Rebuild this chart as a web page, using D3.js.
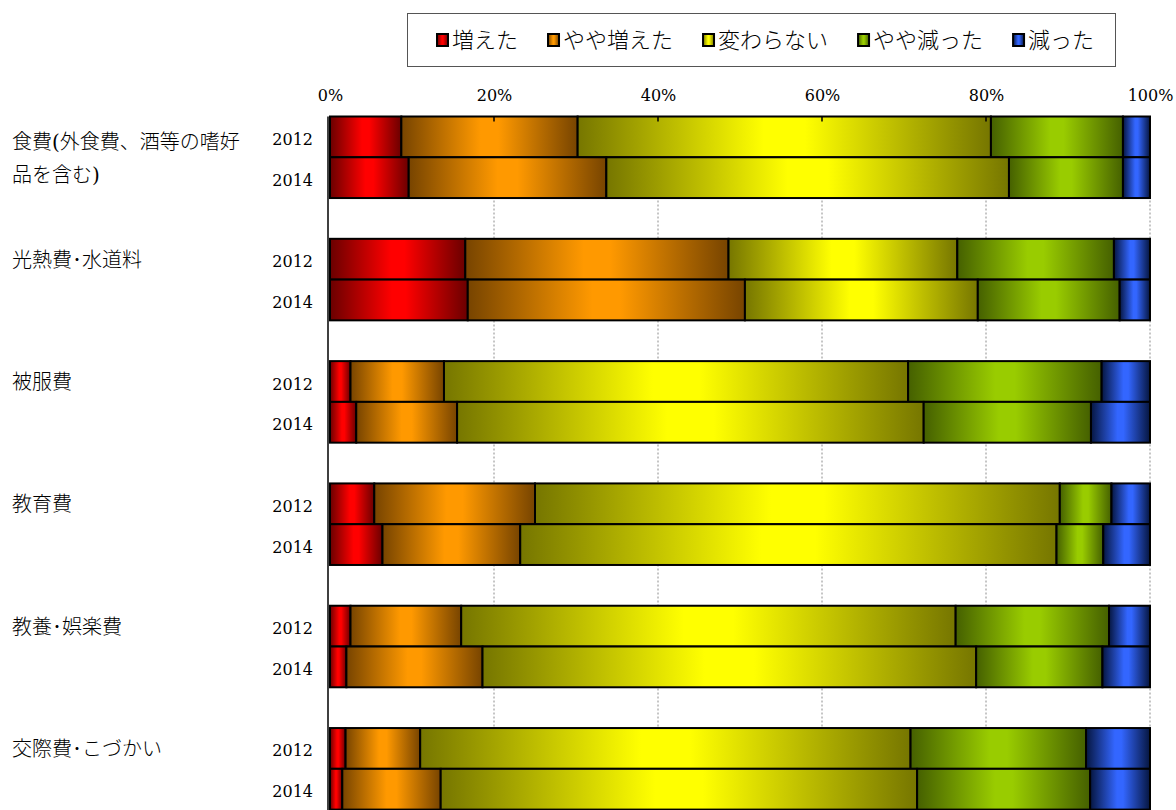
<!DOCTYPE html>
<html>
<head>
<meta charset="utf-8">
<script src="https://cdn.jsdelivr.net/npm/d3@7"></script>
<style>
  html, body { margin: 0; padding: 0; background: #fff; }
  svg { display: block; }
</style>
</head>
<body>
<svg id="chart" width="1176" height="810"></svg>
<script>
// ---- Data ----
const categories = [
  ["食費(外食費、酒等の嗜好", "品を含む)"],
  ["光熱費･水道料"],
  ["被服費"],
  ["教育費"],
  ["教養･娯楽費"],
  ["交際費･こづかい"]
];
const years = ["2012", "2014"];
const seriesNames = ["増えた", "やや増えた", "変わらない", "やや減った", "減った"];
// values per category (%), in series order
const values2012 = [
  [8.7, 21.5, 50.4, 16.1, 3.3],
  [16.5, 32.1, 27.9, 19.1, 4.4],
  [2.5, 11.4, 56.6, 23.6, 5.9],
  [5.4, 19.6, 64.0, 6.3, 4.7],
  [2.5, 13.5, 60.3, 18.7, 5.0],
  [1.9, 9.1, 59.8, 21.4, 7.8]
];
const values2014 = [
  [9.6, 24.1, 49.1, 13.9, 3.3],
  [16.8, 33.8, 28.4, 17.3, 3.7],
  [3.2, 12.3, 56.9, 20.4, 7.2],
  [6.4, 16.8, 65.4, 5.7, 5.7],
  [2.0, 16.6, 60.2, 15.4, 5.8],
  [1.5, 12.0, 58.1, 21.1, 7.3]
];
const tickValues = [0, 20, 40, 60, 80, 100];

// ---- Styles ----
const colors = [
  { dark: "#6a0000", bright: "#ff0000" },
  { dark: "#774400", bright: "#ff9900" },
  { dark: "#767600", bright: "#ffff00" },
  { dark: "#456000", bright: "#99cc00" },
  { dark: "#061640", bright: "#3366ff" }
];
const numFont = "'DejaVu Serif', 'Liberation Serif', serif";
const jpFont = "'DejaVu Serif', 'Noto Sans CJK JP', sans-serif";

const svg = d3.select("#chart");
const defs = svg.append("defs");
colors.forEach((c, i) => {
  const g = defs.append("linearGradient").attr("id", "grad" + i)
    .attr("x1", "0").attr("x2", "1").attr("y1", "0").attr("y2", "0");
  g.append("stop").attr("offset", "0").attr("stop-color", c.dark);
  g.append("stop").attr("offset", "0.45").attr("stop-color", c.bright);
  g.append("stop").attr("offset", "0.55").attr("stop-color", c.bright);
  g.append("stop").attr("offset", "1").attr("stop-color", c.dark);
});

// ---- Scales ----
const plotLeft = 330, plotRight = 1150, plotTop = 116.5;
const slotH = 40.77;
const slots = [];
categories.forEach((c, i) => { slots.push(i + "-0", i + "-1", i + "-gap"); });
const x = d3.scaleLinear().domain([0, 100]).range([plotLeft, plotRight]);
const y = d3.scaleBand().domain(slots).range([plotTop, plotTop + slots.length * slotH]).padding(0);
const plotBottom = plotTop + slots.length * slotH;

// ---- Gridlines ----
svg.append("g").selectAll("line").data(tickValues.filter(v => v > 0)).join("line")
  .attr("x1", d => x(d)).attr("x2", d => x(d))
  .attr("y1", plotTop).attr("y2", plotBottom)
  .attr("stroke", "#8c8c8c").attr("stroke-width", 1)
  .attr("stroke-dasharray", "2,2");

// ---- Top axis ----
const axis = d3.axisTop(x).tickValues(tickValues).tickFormat(d => d + "%").tickSize(0).tickPadding(0);
const axG = svg.append("g").attr("transform", `translate(0,${plotTop})`).call(axis);
axG.select(".domain").remove();
axG.selectAll("text").attr("y", 0).attr("dy", 0)
  .attr("transform", `translate(0,${101 - plotTop})`)
  .style("font-family", numFont).style("font-size", "16px").attr("fill", "#000");

// ---- Bars ----
const rows = [];
categories.forEach((c, i) => {
  [values2012[i], values2014[i]].forEach((vals, j) => {
    let cum = 0;
    vals.forEach((v, k) => {
      rows.push({ slot: i + "-" + j, k, x0: cum, x1: cum + v });
      cum += v;
    });
  });
});
svg.append("g").selectAll("rect").data(rows).join("rect")
  .attr("x", d => x(d.x0))
  .attr("width", d => x(Math.min(d.x1, 100)) - x(d.x0))
  .attr("y", d => y(d.slot))
  .attr("height", y.bandwidth())
  .attr("fill", d => `url(#grad${d.k})`)
  .attr("stroke", "#000").attr("stroke-width", 2);

// inward ticks at top
svg.append("g").selectAll("line").data(tickValues.slice(1, 5)).join("line")
  .attr("x1", d => x(d)).attr("x2", d => x(d))
  .attr("y1", plotTop).attr("y2", plotTop + 5)
  .attr("stroke", "#000").attr("stroke-width", 1.5);

// left axis line
svg.append("line").attr("x1", plotLeft - 2).attr("x2", plotLeft - 2)
  .attr("y1", plotTop).attr("y2", plotBottom)
  .attr("stroke", "#000").attr("stroke-width", 1.5);

// ---- Year labels ----
const yearLabels = [];
categories.forEach((c, i) => years.forEach((yr, j) => yearLabels.push({ slot: i + "-" + j, yr })));
svg.append("g").selectAll("text").data(yearLabels).join("text")
  .attr("x", 313)
  .attr("y", d => y(d.slot) + y.bandwidth() / 2 + 8)
  .attr("text-anchor", "end")
  .style("font-family", numFont).style("font-size", "16px")
  .text(d => d.yr);

// ---- Category labels ----
const catG = svg.append("g");
categories.forEach((lines, i) => {
  const cy = y(i + "-0") + y.bandwidth() / 2 + (lines.length > 1 ? 5 : 0);
  const t = catG.append("text").attr("x", 12)
    .style("font-family", jpFont).style("font-size", "20px").style("font-weight", 300);
  lines.forEach((ln, li) => {
    t.append("tspan").attr("x", 12).attr("y", cy + 7.5 + li * 33).text(ln);
  });
});

// ---- Legend ----
const lg = svg.append("g");
lg.append("rect").attr("x", 407.5).attr("y", 13.5).attr("width", 708).attr("height", 53)
  .attr("fill", "#fff").attr("stroke", "#555").attr("stroke-width", 1);
let lx = 437;
seriesNames.forEach((name, k) => {
  lg.append("rect").attr("x", lx).attr("y", 34).attr("width", 11).attr("height", 12)
    .attr("fill", `url(#grad${k})`).attr("stroke", "#000").attr("stroke-width", 2);
  const t = lg.append("text").attr("x", lx + 15).attr("y", 48)
    .style("font-family", "'Noto Sans CJK JP', sans-serif").style("font-size", "22px")
    .style("font-weight", 300)
    .text(name);
  const w = t.node().getComputedTextLength();
  lx = lx + 15 + w + 30;
});
</script>
</body>
</html>
